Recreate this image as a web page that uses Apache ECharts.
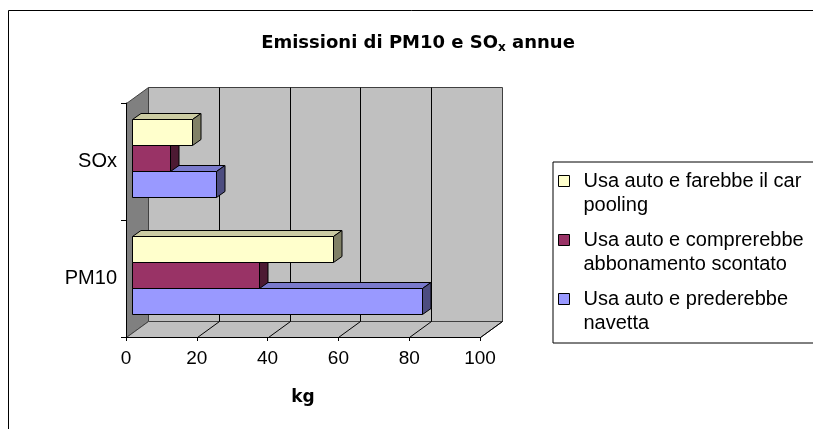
<!DOCTYPE html>
<html>
<head>
<meta charset="utf-8">
<script src="https://cdn.jsdelivr.net/npm/echarts@6/dist/echarts.min.js"></script>
<style>
html,body{margin:0;padding:0;background:#fff;}
#chart{width:813px;height:429px;}
</style>
</head>
<body>
<div id="chart"></div>
<script>
// ---- data ----
const categories = ['PM10', 'SOx'];
const xTicks = [0, 20, 40, 60, 80, 100];
const nameNavetta = 'Usa auto e prederebbe navetta';
const nameAbbonamento = 'Usa auto e comprerebbe abbonamento scontato';
const nameCarPooling = 'Usa auto e farebbe il car pooling';
const navetta = [82, 24];
const abbonamento = [36, 11];
const carPooling = [57, 17];
const legendText = {};
legendText[nameCarPooling] = 'Usa auto e farebbe il car\npooling';
legendText[nameAbbonamento] = 'Usa auto e comprerebbe\nabbonamento scontato';
legendText[nameNavetta] = 'Usa auto e prederebbe\nnavetta';

// ---- styles ----
const FONT = 'Liberation Sans, Arial, sans-serif';
const TITLE_FONT = 'DejaVu Sans, sans-serif';
const DEPTH = [22, -16];       // depth of the 3D box
const BAR_FRONT = [5.5, -4];   // offset of bar front face from front plane
const BAR_DEPTH = [8.5, -6];   // bar thickness in depth
const BAR_FRAC = 26 / 117;     // bar height relative to category band
const faces = {
  yellow: {front: '#FFFFCC', top: '#CCCCA3', side: '#808066'},
  maroon: {front: '#993366', top: '#7A2952', side: '#4D1A33'},
  blue:   {front: '#9999FF', top: '#7A7ACC', side: '#4D4D80'}
};

function px(v) { return Math.round(v) + 0.5; }

function makeBarSeries(name, values, slot, face) {
  return {
    type: 'custom',
    name: name,
    coordinateSystem: 'cartesian2d',
    data: values.map(function (v, i) { return [v, i]; }),
    encode: {x: 0, y: 1},
    itemStyle: {color: face.front},
    z: 3,
    renderItem: function (params, api) {
      const c = api.value(1), v = api.value(0);
      const p0 = api.coord([0, c]);
      const p1 = api.coord([v, c]);
      const band = api.size([0, 1])[1];
      const h = Math.round(band * BAR_FRAC);
      const top = px(p0[1] + BAR_FRONT[1] - 1.5 * h + slot * h);
      const bot = top + h;
      const x0 = px(p0[0] + BAR_FRONT[0]);
      const x1 = px(p1[0] + BAR_FRONT[0]);
      const dx = BAR_DEPTH[0], dy = BAR_DEPTH[1];
      const st = {stroke: '#000', lineWidth: 1, lineJoin: 'miter'};
      return {
        type: 'group',
        children: [
          {type: 'polygon', shape: {points: [[x0, top], [x1, top], [x1 + dx, top + dy], [x0 + dx, top + dy]]},
           style: Object.assign({fill: face.top}, st)},
          {type: 'polygon', shape: {points: [[x1, top], [x1 + dx, top + dy], [x1 + dx, bot + dy], [x1, bot]]},
           style: Object.assign({fill: face.side}, st)},
          {type: 'rect', shape: {x: x0, y: top, width: x1 - x0, height: h},
           style: Object.assign({fill: face.front}, st)}
        ]
      };
    }
  };
}

const wallSeries = {
  type: 'custom',
  name: 'walls',
  silent: true,
  z: -1,
  coordinateSystem: 'cartesian2d',
  data: [[0, 0]],
  renderItem: function (params, api) {
    const cs = params.coordSys;
    const L = px(cs.x), T = px(cs.y), R = px(cs.x + cs.width), B = px(cs.y + cs.height);
    const dx = DEPTH[0], dy = DEPTH[1];
    const edge = {stroke: '#404040', lineWidth: 1};
    const children = [
      {type: 'polygon', shape: {points: [[L, T], [L + dx, T + dy], [L + dx, B + dy], [L, B]]},
       style: Object.assign({fill: '#808080'}, edge)},
      {type: 'rect', shape: {x: L + dx, y: T + dy, width: R - L, height: B - T},
       style: Object.assign({fill: '#C0C0C0'}, edge)},
      {type: 'polygon', shape: {points: [[L, B], [R, B], [R + dx, B + dy], [L + dx, B + dy]]},
       style: Object.assign({fill: '#C0C0C0'}, edge)}
    ];
    xTicks.forEach(function (t) {
      if (t === xTicks[0]) return;
      const x = px(api.coord([t, 0])[0]);
      if (t !== xTicks[xTicks.length - 1]) {
        children.push({type: 'line', shape: {x1: x + dx, y1: T + dy, x2: x + dx, y2: B + dy},
          style: {stroke: '#000', lineWidth: 1}});
      }
      children.push({type: 'line', shape: {x1: x, y1: B, x2: x + dx, y2: B + dy},
        style: {stroke: '#000', lineWidth: 1}});
    });
    return {type: 'group', children: children};
  }
};

const chart = echarts.init(document.getElementById('chart'), null, {renderer: 'canvas'});
chart.setOption({
  backgroundColor: '#fff',
  animation: false,
  title: {
    text: '{a|Emissioni di PM10 e SO}{s|x}{a| annue}',
    left: 413,
    top: 27,
    textAlign: 'center',
    textStyle: {
      fontFamily: TITLE_FONT, fontWeight: 'bold', fontSize: 18, color: '#000',
      rich: {
        a: {fontFamily: TITLE_FONT, fontWeight: 'bold', fontSize: 18, color: '#000'},
        s: {fontFamily: TITLE_FONT, fontWeight: 'bold', fontSize: 12, color: '#000', padding: [10, 0, 0, 0]}
      }
    }
  },
  graphic: [{
    type: 'rect', silent: true, z: -10,
    shape: {x: 8.5, y: 10.5, width: 900, height: 500},
    style: {fill: 'none', stroke: '#000', lineWidth: 1}
  }],
  legend: {
    data: [nameCarPooling, nameAbbonamento, nameNavetta],
    orient: 'vertical',
    left: 553,
    top: 162,
    padding: [7, 30, 7, 5],
    borderColor: '#000',
    borderWidth: 1,
    backgroundColor: '#fff',
    itemWidth: 20,
    itemHeight: 48,
    itemGap: 10,
    icon: 'path://M0,0M0,6L11,6L11,17L0,17ZM20,48',
    itemStyle: {borderColor: '#000', borderWidth: 1},
    selectedMode: false,
    formatter: function (name) { return legendText[name]; },
    textStyle: {fontFamily: FONT, fontSize: 20, lineHeight: 24, color: '#000'}
  },
  grid: {left: 126, right: 333, top: 103, bottom: 92, containLabel: false},
  xAxis: {
    type: 'value',
    min: 0, max: 100, interval: 20,
    name: 'kg',
    nameLocation: 'middle',
    nameGap: 52,
    nameTextStyle: {fontFamily: TITLE_FONT, fontWeight: 'bold', fontSize: 17, color: '#000'},
    axisLine: {show: true, lineStyle: {color: '#000', width: 1}},
    axisTick: {show: true, length: 4, lineStyle: {color: '#000'}},
    axisLabel: {fontFamily: FONT, fontSize: 19, color: '#000', margin: 12},
    splitLine: {show: false}
  },
  yAxis: {
    type: 'category',
    data: categories,
    axisLine: {show: true, lineStyle: {color: '#000', width: 1}},
    axisTick: {show: true, length: 5, lineStyle: {color: '#000'}},
    axisLabel: {fontFamily: FONT, fontSize: 20, color: '#000', margin: 9},
    splitLine: {show: false}
  },
  series: [
    wallSeries,
    makeBarSeries(nameNavetta, navetta, 2, faces.blue),
    makeBarSeries(nameAbbonamento, abbonamento, 1, faces.maroon),
    makeBarSeries(nameCarPooling, carPooling, 0, faces.yellow)
  ]
});
</script>
</body>
</html>
